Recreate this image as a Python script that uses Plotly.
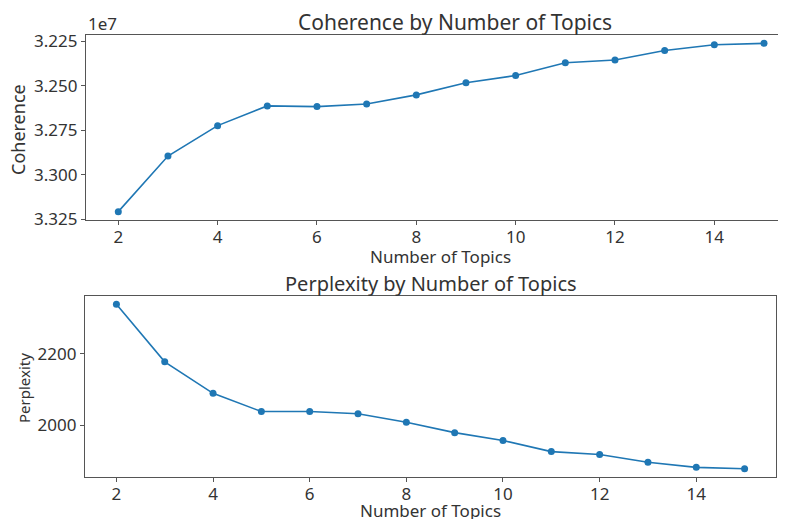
import plotly.graph_objects as go

topics = [2, 3, 4, 5, 6, 7, 8, 9, 10, 11, 12, 13, 14, 15]
coherence = [-33208000, -32895000, -32724000, -32613000, -32617000, -32602000, -32551000,
             -32483000, -32442000, -32370000, -32355000, -32301000, -32269000, -32261000]
perplexity = [2338, 2177, 2089, 2038, 2038, 2032, 2008, 1979, 1957, 1926, 1918, 1896, 1882, 1878]
coh_tickvals = [-33250000, -33000000, -32750000, -32500000, -32250000]
coh_ticktext = ["3.325", "3.300", "3.275", "3.250", "3.225"]
x_ticks = [2, 4, 6, 8, 10, 12, 14]

W, H = 786, 519
OFF = 8  # page body margin offset
FONT = "Noto Sans"
TXT = "#333333"
BLUE = "#1f77b4"

def px(x):
    return (x - OFF) / W

def py(y):
    return 1 - (y - OFF) / H

fig = go.Figure()
fig.add_trace(go.Scatter(x=topics, y=coherence, mode="lines+markers",
                         line=dict(color=BLUE, width=1.6), marker=dict(color=BLUE, size=7),
                         xaxis="x", yaxis="y", showlegend=False, cliponaxis=False))
fig.add_trace(go.Scatter(x=topics, y=perplexity, mode="lines+markers",
                         line=dict(color=BLUE, width=1.6), marker=dict(color=BLUE, size=7),
                         xaxis="x2", yaxis="y2", showlegend=False, cliponaxis=False))

axis_common = dict(showgrid=False, zeroline=False, showline=True, linecolor="#555555",
                   linewidth=1.2, ticks="outside", ticklen=4, tickcolor="#555555",
                   automargin=False,
                   tickfont=dict(family=FONT, size=17, color=TXT))

fig.update_layout(
    width=W, height=H,
    margin=dict(l=0, r=0, t=0, b=0, autoexpand=False),
    paper_bgcolor="white", plot_bgcolor="white",
    xaxis=dict(domain=[px(86), 1.0], range=[1.35, 1.35 + (W + OFF - 86) / 49.67],
               tickvals=x_ticks, mirror=True, anchor="y", ticklabelstandoff=-3,
               **axis_common),
    yaxis=dict(domain=[py(220), py(35)], range=[-33255000, -32214000],
               tickvals=coh_tickvals, ticktext=coh_ticktext, mirror=False, anchor="x",
               **axis_common),
    xaxis2=dict(domain=[px(85), px(776)], range=[1.35, 15.65], tickvals=x_ticks,
                mirror=True, anchor="y2", ticklabelstandoff=-3, **axis_common),
    yaxis2=dict(domain=[py(477), py(296)], range=[1855, 2361], tickvals=[2000, 2200],
                mirror=True, anchor="x2", **axis_common),
)

annots = [
    dict(text="Coherence by Number of Topics", x=px(455), y=py(22), size=21),
    dict(text="Perplexity by Number of Topics", x=px(431), y=py(283), size=20),
    dict(text="Number of Topics", x=px(440), y=py(256), size=17),
    dict(text="Number of Topics", x=px(430), y=py(510), size=17),
    dict(text="1e7", x=px(102), y=py(24), size=17),
]
for a in annots:
    fig.add_annotation(text=a["text"], x=a["x"], y=a["y"], xref="paper", yref="paper",
                       xanchor="center", yanchor="middle", showarrow=False,
                       font=dict(family=FONT, size=a["size"], color=TXT))
fig.add_annotation(text="Coherence", x=px(18), y=py(130), xref="paper", yref="paper",
                   xanchor="center", yanchor="middle", showarrow=False, textangle=-90,
                   font=dict(family=FONT, size=18, color=TXT))
fig.add_annotation(text="Perplexity", x=px(24), y=py(388), xref="paper", yref="paper",
                   xanchor="center", yanchor="middle", showarrow=False, textangle=-90,
                   font=dict(family=FONT, size=15, color=TXT))

fig.write_html("out.html")
